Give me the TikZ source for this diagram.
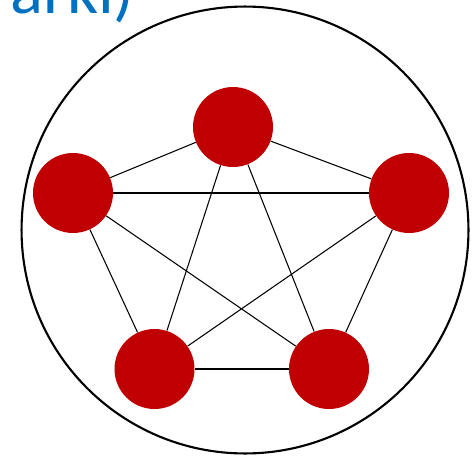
\documentclass[tikz,border=0pt]{standalone}
\usepackage{fontspec}
\setmainfont{Carlito}
\usetikzlibrary{positioning}
\definecolor{nodered}{RGB}{192,0,0}
\definecolor{titleblue}{RGB}{0,112,192}

\begin{document}
\begin{tikzpicture}[x=0.02cm, y=-0.02cm,
    vertex/.style={circle, fill=nodered, minimum size=1.6cm, inner sep=0pt},
    edge/.style={black, line width=0.6pt}]
  \useasboundingbox (0,0) rectangle (475,456);

  % cropped title
  \node[titleblue, anchor=base west, inner sep=0pt, font=\fontsize{39}{42}\selectfont]
    (title) at (10,14) {arki)};

  % outer circle
  \draw[black, line width=1.2pt] (245,230) circle[radius=4.47cm];

  % the five vertices
  \node[vertex] (top) at (233,127) {};
  \node[vertex] (left) at (73,193) {};
  \node[vertex] (right) at (409,193) {};
  \node[vertex] (botleft) at (154.5,369) {};
  \node[vertex] (botright) at (329,369) {};

  % all pairs
  \foreach \a/\b in {top/left, top/right, top/botleft, top/botright,
                     left/right, left/botleft, left/botright,
                     right/botleft, right/botright, botleft/botright}
    \draw[edge] (\a) -- (\b);
\end{tikzpicture}
\end{document}
